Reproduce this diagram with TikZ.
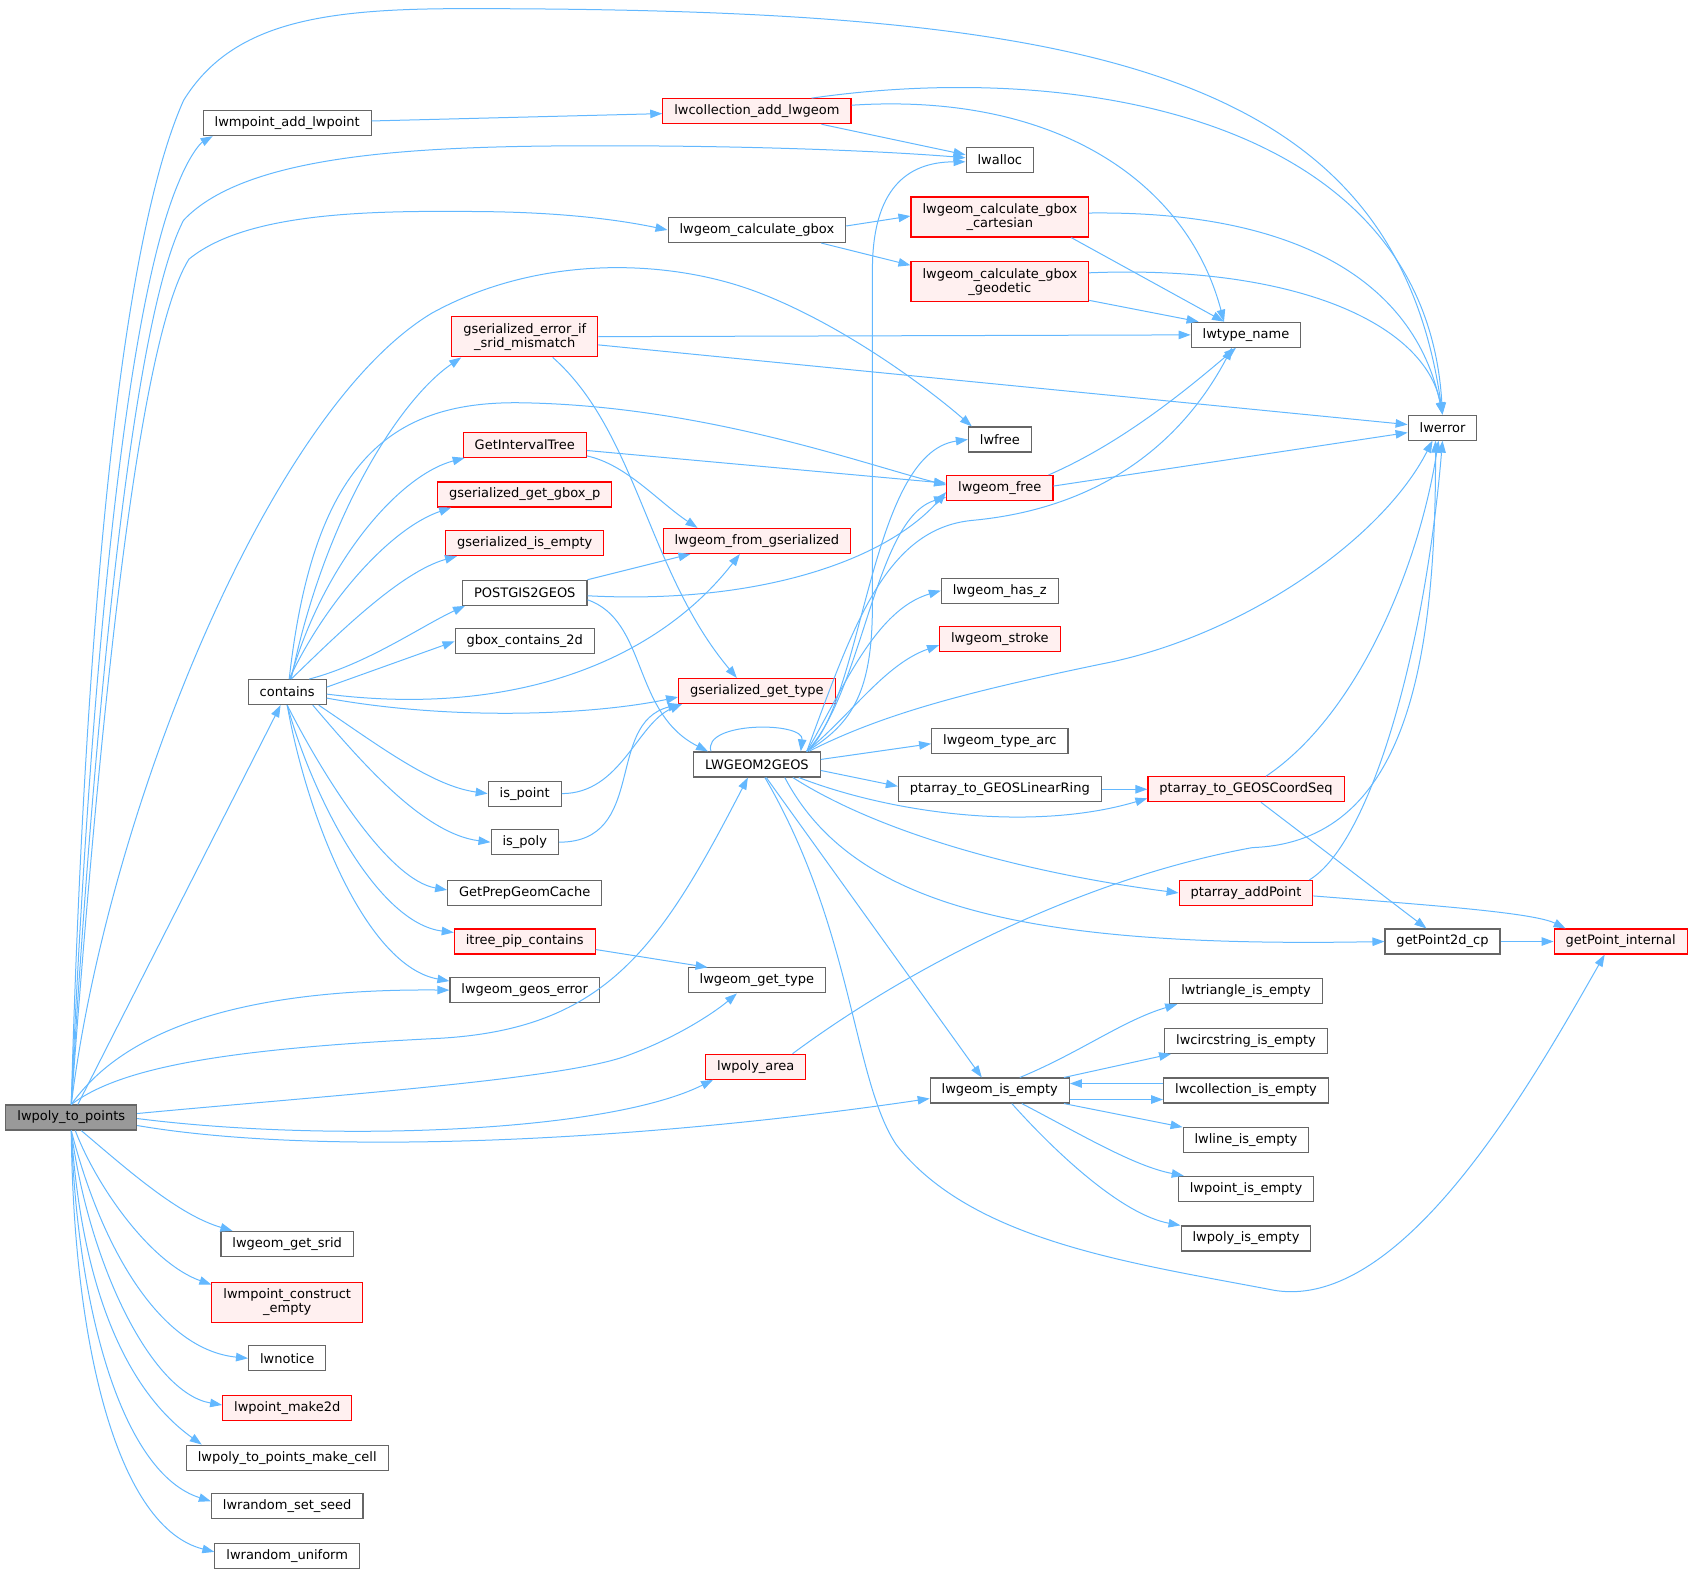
\documentclass[tikz,border=0pt]{standalone}
\usepackage{fontspec}
\setmainfont{DejaVu Sans}
\usetikzlibrary{arrows.meta}
\definecolor{edgeblue}{HTML}{63B8FF}
\definecolor{boxgray}{HTML}{666666}
\definecolor{rootfill}{HTML}{999999}
\definecolor{redfill}{HTML}{FFF0F0}

\tikzset{
  fn/.style={draw=boxgray, fill=white, line width=1.1pt, minimum height=25pt,
             inner xsep=11.5pt, inner ysep=2pt, align=center,
             font=\fontsize{13pt}{14pt}\selectfont},
  fnred/.style={fn, draw=red, fill=redfill},
  fnroot/.style={fn, fill=rootfill},
  tall/.style={minimum height=40pt},
  calls/.style={draw=edgeblue, line width=1pt, -{Triangle[length=12pt,width=8.5pt]}}
}

\begin{document}
\begin{tikzpicture}[x=1.0797pt, y=-1.0797pt]
  \useasboundingbox (0,0) rectangle (1568,1460);

  % caller
  \node[fnroot] (root) at (66,1035) {lwpoly\_to\_points};

  % first column
  \node[fn] (addpt) at (266,114) {lwmpoint\_add\_lwpoint};
  \node[fn] (contains) at (266,641) {contains};
  \node[fn] (getsrid) at (266,1152) {lwgeom\_get\_srid};
  \node[fnred, tall] (mpempty) at (266,1206) {lwmpoint\_construct\\\_empty};
  \node[fn] (notice) at (266,1258) {lwnotice};
  \node[fnred] (make2d) at (266,1304) {lwpoint\_make2d};
  \node[fn] (makecell) at (266,1350) {lwpoly\_to\_points\_make\_cell};
  \node[fn] (setseed) at (266,1395) {lwrandom\_set\_seed};
  \node[fn] (uniform) at (266,1441) {lwrandom\_uniform};

  % second column
  \node[fnred, tall] (sridmis) at (486,312) {gserialized\_error\_if\\\_srid\_mismatch};
  \node[fnred] (itree) at (486,412) {GetIntervalTree};
  \node[fnred] (gboxp) at (486,458) {gserialized\_get\_gbox\_p};
  \node[fnred] (gsempty) at (486,503) {gserialized\_is\_empty};
  \node[fn] (pg2geos) at (486,549) {POSTGIS2GEOS};
  \node[fn] (gboxc2d) at (486,594) {gbox\_contains\_2d};
  \node[fn] (ispoint) at (486,735) {is\_point};
  \node[fn] (ispoly) at (486,780) {is\_poly};
  \node[fn] (prepcache) at (486,827) {GetPrepGeomCache};
  \node[fnred] (pipcont) at (486,872) {itree\_pip\_contains};
  \node[fn] (geoserr) at (486,917) {lwgeom\_geos\_error};

  % third column
  \node[fnred] (colladd) at (701,103) {lwcollection\_add\_lwgeom};
  \node[fn] (calcgbox) at (701,213) {lwgeom\_calculate\_gbox};
  \node[fnred] (fromgs) at (701,501) {lwgeom\_from\_gserialized};
  \node[fnred] (gstype) at (701,640) {gserialized\_get\_type};
  \node[fn] (lw2geos) at (701,708) {LWGEOM2GEOS};
  \node[fn] (gettype) at (701,908) {lwgeom\_get\_type};
  \node[fnred] (polyarea) at (700,988) {lwpoly\_area};

  % fourth column
  \node[fn] (lwalloc) at (926,148) {lwalloc};
  \node[fnred, tall] (gboxcart) at (926,201) {lwgeom\_calculate\_gbox\\\_cartesian};
  \node[fnred, tall] (gboxgeod) at (926,261) {lwgeom\_calculate\_gbox\\\_geodetic};
  \node[fn] (lwfree) at (926,407) {lwfree};
  \node[fnred] (geomfree) at (926,452) {lwgeom\_free};
  \node[fn] (hasz) at (926,547) {lwgeom\_has\_z};
  \node[fnred] (stroke) at (926,592) {lwgeom\_stroke};
  \node[fn] (typearc) at (926,686) {lwgeom\_type\_arc};
  \node[fn] (linring) at (926,731) {ptarray\_to\_GEOSLinearRing};
  \node[fn] (isempty) at (926,1010) {lwgeom\_is\_empty};

  % fifth column and beyond
  \node[fn] (typename) at (1154,310) {lwtype\_name};
  \node[fnred] (coordseq) at (1154,731) {ptarray\_to\_GEOSCoordSeq};
  \node[fnred] (addpoint) at (1154,827) {ptarray\_addPoint};
  \node[fn] (triempty) at (1154,918) {lwtriangle\_is\_empty};
  \node[fn] (circempty) at (1154,964) {lwcircstring\_is\_empty};
  \node[fn] (collempty) at (1154,1010) {lwcollection\_is\_empty};
  \node[fn] (lineempty) at (1154,1056) {lwline\_is\_empty};
  \node[fn] (pointempty) at (1154,1101) {lwpoint\_is\_empty};
  \node[fn] (polyempty) at (1154,1147) {lwpoly\_is\_empty};
  \node[fn] (lwerror) at (1336,396) {lwerror};
  \node[fn] (p2dcp) at (1336,872) {getPoint2d\_cp};
  \node[fnred] (ptint) at (1501,872) {getPoint\_internal};

  % calls from lwpoly_to_points
  \draw[calls] (root.north) .. controls (75,700) and (100,250) .. (170,93) .. controls (215,20) and (300,8) .. (430,8) .. controls (1000,8) and (1290,60) .. (lwerror.north);
  \draw[calls] (root.north) .. controls (80,700) and (110,300) .. (165,170) .. controls (175,145) and (185,133) .. ([xshift=10pt]addpt.south west);
  \draw[calls] (root.north) .. controls (85,700) and (120,300) .. (170,204) .. controls (230,140) and (400,135) .. (560,135) .. controls (700,135) and (820,140) .. ([yshift=2pt]lwalloc.west);
  \draw[calls] (root.north) .. controls (90,700) and (125,320) .. (175,240) .. controls (230,195) and (350,195) .. (450,196) .. controls (530,197) and (580,205) .. (calcgbox.west);
  \draw[calls] (root.north) .. controls (100,750) and (250,380) .. (400,290) .. controls (500,235) and (620,240) .. (700,270) .. controls (780,300) and (860,360) .. ([xshift=4pt]lwfree.north west);
  \draw[calls] (root) -- (contains);
  \draw[calls] (root.north) .. controls (110,990) and (200,972) .. (400,962) .. controls (560,955) and (610,880) .. ([xshift=-9pt]lw2geos.south);
  \draw[calls] (root.north) .. controls (100,975) and (180,915) .. (geoserr.west);
  \draw[calls] ([yshift=4pt]root.east) .. controls (300,1015) and (520,1000) .. (580,978) .. controls (630,960) and (665,935) .. ([xshift=-20pt]gettype.south);
  \draw[calls] ([yshift=-1pt]root.east) .. controls (300,1058) and (560,1050) .. ([xshift=8pt]polyarea.south west);
  \draw[calls] ([yshift=-8pt]root.east) .. controls (300,1072) and (600,1056) .. ([yshift=-8pt]isempty.west);
  \draw[calls] ([xshift=10pt]root.south) .. controls (120,1085) and (165,1125) .. ([xshift=12pt]getsrid.north west);
  \draw[calls] ([xshift=4pt]root.south) .. controls (90,1100) and (140,1170) .. ([yshift=-3pt]mpempty.north west);
  \draw[calls] (root.south) .. controls (95,1160) and (150,1250) .. (notice.west);
  \draw[calls] (root.south) .. controls (82,1170) and (140,1290) .. ([yshift=3pt]make2d.west);
  \draw[calls] (root.south) .. controls (76,1200) and (120,1290) .. ([xshift=16pt]makecell.north west);
  \draw[calls] (root.south) .. controls (72,1220) and (115,1365) .. ([yshift=5pt]setseed.west);
  \draw[calls] (root.south) .. controls (68,1250) and (110,1415) .. ([yshift=4pt]uniform.west);

  % first column calls
  \draw[calls] (addpt) -- (colladd);
  \draw[calls] ([xshift=4pt]contains.north) .. controls (300,480) and (370,370) .. ([xshift=10pt]sridmis.south west);
  \draw[calls] ([xshift=2pt]contains.north) .. controls (290,430) and (360,372) .. (480,373) .. controls (650,375) and (800,430) .. ([yshift=3pt]geomfree.west);
  \draw[calls] ([xshift=3pt]contains.north) .. controls (300,520) and (370,440) .. ([xshift=2pt]itree.south west);
  \draw[calls] ([xshift=2pt]contains.north) .. controls (300,560) and (360,490) .. ([xshift=14pt]gboxp.south west);
  \draw[calls] ([xshift=4pt]contains.north) .. controls (310,590) and (370,530) .. ([xshift=12pt]gsempty.south west);
  \draw[calls] ([xshift=22pt]contains.north) .. controls (340,615) and (390,580) .. ([xshift=3pt]pg2geos.south west);
  \draw[calls] ([yshift=5pt]contains.east) -- (gboxc2d.west);
  \draw[calls] ([yshift=-2pt]contains.east) .. controls (480,665) and (610,610) .. ([xshift=-17pt]fromgs.south);
  \draw[calls] ([yshift=-6pt]contains.east) .. controls (420,668) and (550,662) .. ([yshift=-6pt]gstype.west);
  \draw[calls] ([xshift=-8pt]contains.south east) .. controls (350,690) and (400,728) .. (ispoint.west);
  \draw[calls] ([xshift=-14pt]contains.south east) .. controls (330,700) and (390,772) .. (ispoly.west);
  \draw[calls] (contains.south) .. controls (300,720) and (360,815) .. ([yshift=3pt]prepcache.west);
  \draw[calls] (contains.south) .. controls (290,740) and (350,855) .. ([yshift=-4pt]pipcont.north west);
  \draw[calls] (contains.south) .. controls (285,760) and (340,895) .. ([yshift=-4pt]geoserr.north west);

  % second column calls
  \draw[calls] (sridmis) -- (typename);
  \draw[calls] ([yshift=-8pt]sridmis.east) -- ([yshift=3pt]lwerror.west);
  \draw[calls] ([xshift=28pt]sridmis.south) .. controls (590,400) and (600,530) .. ([xshift=-20pt]gstype.north);
  \draw[calls] (itree) -- (geomfree);
  \draw[calls] ([yshift=2pt]itree.south east) .. controls (580,430) and (610,465) .. ([xshift=35pt]fromgs.north west);
  \draw[calls] (pg2geos.north east) -- ([xshift=28pt]fromgs.south west);
  \draw[calls] ([yshift=-3pt]pg2geos.east) .. controls (700,560) and (820,520) .. ([yshift=-4pt]geomfree.west);
  \draw[calls] ([yshift=-7pt]pg2geos.east) .. controls (600,575) and (585,660) .. ([xshift=15pt]lw2geos.north west);
  \draw[calls] (ispoint.east) .. controls (575,735) and (590,670) .. ([xshift=4pt]gstype.south west);
  \draw[calls] (ispoly.east) .. controls (600,780) and (560,670) .. ([xshift=2pt]gstype.south west);
  \draw[calls] ([yshift=-8pt]pipcont.east) -- ([xshift=20pt]gettype.north west);

  % third column calls
  \draw[calls] ([xshift=-30pt]colladd.south east) -- ([yshift=5pt]lwalloc.west);
  \draw[calls] ([xshift=-40pt]colladd.north east) .. controls (1000,55) and (1320,110) .. (lwerror.north);
  \draw[calls] ([yshift=6pt]colladd.east) .. controls (980,85) and (1100,170) .. ([xshift=-22pt]typename.north);
  \draw[calls] ([yshift=4pt]calcgbox.east) -- ([yshift=1pt]gboxcart.west);
  \draw[calls] ([xshift=-25pt]calcgbox.south east) -- ([yshift=-4pt]gboxgeod.north west);
  \draw[calls] ([xshift=18pt]lw2geos.north west) .. controls (650,668) and (745,668) .. ([xshift=-20pt]lw2geos.north east);
  \draw[calls] ([xshift=-14pt]lw2geos.north east) .. controls (790,670) and (808,640) .. (808,560) -- (808,250) .. controls (808,175) and (840,150) .. ([yshift=-2pt]lwalloc.west);
  \draw[calls] ([xshift=-14pt]lw2geos.north east) .. controls (800,650) and (805,420) .. (lwfree.west);
  \draw[calls] ([xshift=-14pt]lw2geos.north east) .. controls (800,640) and (810,480) .. ([yshift=-9pt]geomfree.west);
  \draw[calls] ([xshift=-14pt]lw2geos.north east) .. controls (790,580) and (820,490) .. (900,482) .. controls (1030,470) and (1100,400) .. ([xshift=-14pt]typename.south);
  \draw[calls] ([xshift=-14pt]lw2geos.north east) .. controls (780,640) and (810,565) .. (hasz.west);
  \draw[calls] ([xshift=-14pt]lw2geos.north east) .. controls (790,660) and (820,615) .. ([yshift=-6pt]stroke.west);
  \draw[calls] ([xshift=-12pt]lw2geos.north east) .. controls (820,660) and (900,640) .. (1020,615) .. controls (1150,590) and (1280,500) .. ([xshift=-10pt]lwerror.south);
  \draw[calls] ([yshift=5pt]lw2geos.east) -- ([yshift=-3pt]typearc.west);
  \draw[calls] ([yshift=-6pt]lw2geos.east) -- ([yshift=3pt]linring.west);
  \draw[calls] ([xshift=-22pt]lw2geos.south east) .. controls (830,755) and (960,770) .. ([yshift=4pt]coordseq.south west);
  \draw[calls] ([xshift=-28pt]lw2geos.south east) .. controls (820,775) and (960,810) .. (addpoint.west);
  \draw[calls] ([xshift=-36pt]lw2geos.south east) .. controls (790,840) and (950,878) .. (p2dcp.west);
  \draw[calls] (lw2geos) -- ([xshift=-18pt]isempty.north);
  \draw[calls] ([xshift=8pt]lw2geos.south) .. controls (790,860) and (790,1000) .. (830,1060) .. controls (900,1150) and (1050,1170) .. (1180,1195) .. controls (1300,1215) and (1420,1000) .. ([xshift=-16pt]ptint.south);
  \draw[calls] ([xshift=-14pt]polyarea.north east) .. controls (850,890) and (1010,812) .. (1160,785) .. controls (1300,780) and (1330,620) .. ([xshift=-7pt]lwerror.south);

  % fourth column calls
  \draw[calls] ([yshift=4pt]gboxcart.east) .. controls (1200,195) and (1310,260) .. (lwerror.north);
  \draw[calls] ([xshift=-18pt]gboxcart.south east) -- ([xshift=-22pt]typename.north);
  \draw[calls] ([yshift=9pt]gboxgeod.east) .. controls (1200,245) and (1320,300) .. (lwerror.north);
  \draw[calls] ([yshift=2pt]gboxgeod.south east) -- ([xshift=8pt]typename.north west);
  \draw[calls] ([xshift=-5pt]geomfree.north east) .. controls (1040,410) and (1100,360) .. ([xshift=-10pt]typename.south);
  \draw[calls] ([yshift=2pt]geomfree.east) -- ([yshift=-5pt]lwerror.west);
  \draw[calls] (linring) -- (coordseq);
  \draw[calls] ([xshift=20pt]isempty.north) .. controls (1000,975) and (1040,945) .. ([xshift=8pt]triempty.south west);
  \draw[calls] ([xshift=-6pt]isempty.north east) -- ([xshift=7pt]circempty.south west);
  \draw[calls] ([yshift=-9pt]isempty.east) -- ([yshift=-9pt]collempty.west);
  \draw[calls] ([yshift=7pt]collempty.west) -- ([yshift=7pt]isempty.east);
  \draw[calls] ([xshift=-6pt]isempty.south east) -- (lineempty.north west);
  \draw[calls] ([xshift=22pt]isempty.south) .. controls (1000,1050) and (1050,1080) .. ([xshift=6pt]pointempty.north west);
  \draw[calls] ([xshift=12pt]isempty.south) .. controls (980,1070) and (1040,1125) .. (polyempty.north west);

  % right columns
  \draw[calls] ([xshift=20pt]coordseq.north) .. controls (1260,660) and (1315,520) .. ([xshift=-4pt]lwerror.south);
  \draw[calls] ([xshift=15pt]coordseq.south) -- ([xshift=-16pt]p2dcp.north);
  \draw[calls] ([xshift=-4pt]addpoint.north east) .. controls (1270,780) and (1320,600) .. (lwerror.south);
  \draw[calls] ([yshift=-3pt]addpoint.east) .. controls (1320,838) and (1420,845) .. ([xshift=12pt]ptint.north west);
  \draw[calls] (p2dcp) -- (ptint);
\end{tikzpicture}
\end{document}
